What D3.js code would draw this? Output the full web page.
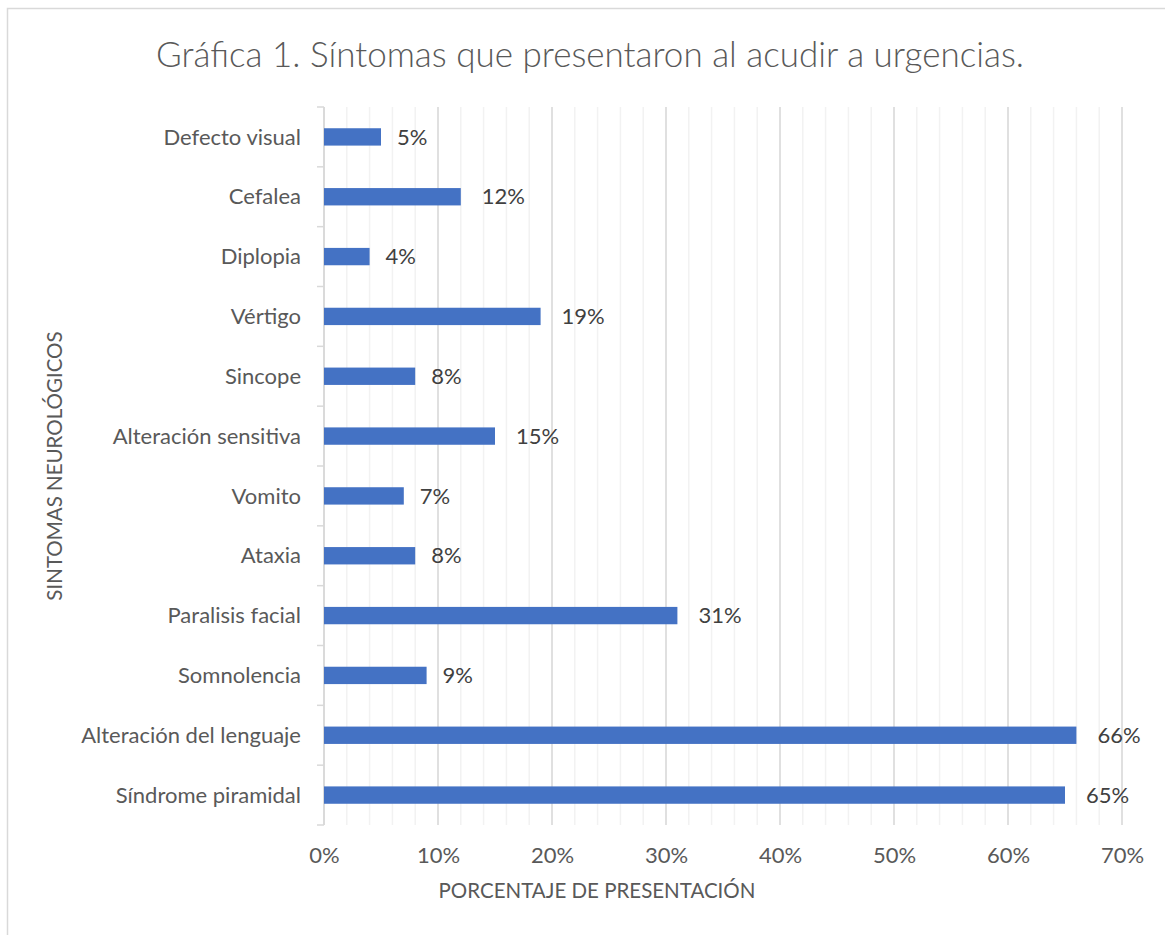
<!DOCTYPE html>
<html>
<head>
<meta charset="utf-8">
<script src="https://cdn.jsdelivr.net/npm/d3@7"></script>
<style>
  body { margin: 0; background: #ffffff; }
  text { font-family: Lato, "Open Sans", sans-serif; }
  .title { font-size: 35px; font-weight: 300; fill: #595959; }
  .catlabel { font-size: 22px; fill: #595959; }
  .ticklabel { font-size: 22px; fill: #595959; }
  .valuelabel { font-size: 22px; fill: #404040; }
  .axistitle { font-size: 20.5px; fill: #595959; }
</style>
</head>
<body>
<script>
// categories from top to bottom, as in the picture
var sintomas = ["Defecto visual", "Cefalea", "Diplopia", "Vértigo", "Sincope",
  "Alteración sensitiva", "Vomito", "Ataxia", "Paralisis facial", "Somnolencia",
  "Alteración del lenguaje", "Síndrome piramidal"]
var porcentajes = [5, 12, 4, 19, 8, 15, 7, 8, 31, 9, 66, 65]
var xTicks = [0, 10, 20, 30, 40, 50, 60, 70]
var minorTicks = d3.range(0, 71, 2)

WIDTH = 1165
HEIGHT = 935
LEFT = 324
RIGHT = 1122
TOP = 107
BOTTOM = 825
BARCOLOR = "#4472c4"

var svg = d3.select("body").append("svg")
  .attr("width", WIDTH)
  .attr("height", HEIGHT)

// chart area border
svg.append("rect").attr("x", 7.5).attr("y", 8.5)
  .attr("width", 1200).attr("height", 1000)
  .attr("fill", "none").attr("stroke", "#d9d9d9").attr("stroke-width", 1.5)

var xScale = d3.scaleLinear().domain([0, 70]).range([LEFT, RIGHT])
var yScale = d3.scaleBand().domain(sintomas).range([TOP, BOTTOM])
  .paddingInner(0.71).paddingOuter(0.355)

// minor gridlines every 2%
svg.append("g").selectAll("line").data(minorTicks).enter().append("line")
  .attr("x1", function(d) { return xScale(d) }).attr("x2", function(d) { return xScale(d) })
  .attr("y1", TOP).attr("y2", BOTTOM)
  .attr("stroke", "#f2f2f2").attr("stroke-width", 1.5)

// major gridlines every 10%
svg.append("g").selectAll("line").data(xTicks).enter().append("line")
  .attr("x1", function(d) { return xScale(d) }).attr("x2", function(d) { return xScale(d) })
  .attr("y1", TOP).attr("y2", BOTTOM)
  .attr("stroke", "#d9d9d9").attr("stroke-width", 1.5)

// x tick labels
var xAxis = svg.append("g").attr("transform", "translate(0," + (BOTTOM + 38) + ")")
  .call(d3.axisBottom(xScale).tickValues(xTicks).tickSize(0).tickPadding(0)
    .tickFormat(function(d) { return d + "%" }))
xAxis.select(".domain").remove()
xAxis.selectAll("text").attr("class", "ticklabel").attr("dy", null)
  .attr("font-family", null).attr("font-size", null).attr("fill", null)

// vertical axis with outside ticks between categories
var step = yScale.step()
var yAxis = svg.append("g").attr("transform", "translate(" + LEFT + ",0)")
yAxis.append("line").attr("x1", 0).attr("x2", 0).attr("y1", TOP).attr("y2", BOTTOM)
  .attr("stroke", "#d9d9d9").attr("stroke-width", 1.5)
yAxis.selectAll(".ytick").data(d3.range(sintomas.length + 1)).enter().append("line")
  .attr("class", "ytick")
  .attr("x1", -7).attr("x2", 0)
  .attr("y1", function(i) { return TOP + i * step }).attr("y2", function(i) { return TOP + i * step })
  .attr("stroke", "#d9d9d9").attr("stroke-width", 1.5)

svg.append("g").selectAll("text").data(sintomas).enter().append("text")
  .attr("class", "catlabel")
  .attr("x", LEFT - 23)
  .attr("y", function(d) { return yScale(d) + yScale.bandwidth() / 2 })
  .attr("dy", "0.35em")
  .attr("text-anchor", "end")
  .text(function(d) { return d })

// bars
svg.append("g").selectAll("rect").data(porcentajes).enter().append("rect")
  .attr("x", xScale(0))
  .attr("y", function(d, i) { return yScale(sintomas[i]) })
  .attr("width", function(d) { return xScale(d) - xScale(0) })
  .attr("height", yScale.bandwidth())
  .attr("fill", BARCOLOR)

// value labels
svg.append("g").selectAll("text").data(porcentajes).enter().append("text")
  .attr("class", "valuelabel")
  .attr("x", function(d) { return xScale(d) + (d >= 10 ? 21 : 16) })
  .attr("y", function(d, i) { return yScale(sintomas[i]) + yScale.bandwidth() / 2 })
  .attr("dy", "0.35em")
  .text(function(d) { return d + "%" })

// titles
svg.append("text").attr("class", "title")
  .attr("x", 590).attr("y", 67).attr("text-anchor", "middle")
  .text("Gráfica 1. Síntomas que presentaron al acudir a urgencias.")
svg.append("text").attr("class", "axistitle")
  .attr("x", 597).attr("y", 898).attr("text-anchor", "middle")
  .text("PORCENTAJE DE PRESENTACIÓN")
svg.append("text").attr("class", "axistitle")
  .attr("transform", "translate(" + 62 + "," + ((TOP + BOTTOM) / 2) + ")rotate(-90)")
  .attr("text-anchor", "middle")
  .text("SINTOMAS NEUROLÓGICOS")
</script>
</body>
</html>
